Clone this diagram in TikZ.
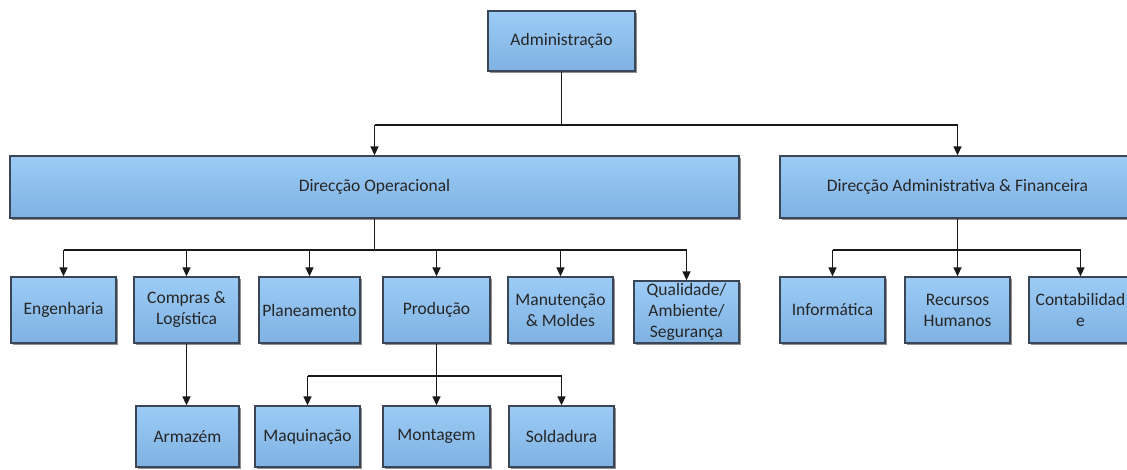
\documentclass[tikz,border=0pt]{standalone}
\usepackage{fontspec}
\setmainfont{Carlito}
\usetikzlibrary{shadows,arrows.meta,calc}
\definecolor{boxtop}{HTML}{9CCBF6}
\definecolor{boxbot}{HTML}{7FB2E2}
\definecolor{boxline}{HTML}{3A4656}
\definecolor{txt}{HTML}{262626}
\tikzset{
  box/.style={draw=boxline, line width=1.3pt, top color=boxtop, bottom color=boxbot,
    drop shadow={shadow xshift=1.6pt, shadow yshift=-1.6pt, fill=black!55, opacity=0.8},
    align=center, text=txt, inner sep=0pt,
    font=\fontsize{17.5}{21}\selectfont},
  wire/.style={draw=black!90, line width=1.5pt},
  conn/.style={wire, -{Triangle[width=8pt,length=9pt]}},
}
\newcommand{\bx}[7]{% name, x1, y1, x2, y2, text, extra
  \node[box, minimum width={(#4-#2)*1pt}, minimum height={(#5-#3)*1pt}, #7] (#1) at ({(#2+#4)/2},{(#3+#5)/2}) {#6};}
\begin{document}
\begin{tikzpicture}[x=1pt,y=-1pt]
\useasboundingbox (0,0) rectangle (1127,469);
\bx{adm}{488}{11}{635}{71}{Administração}{}
\bx{dop}{10}{156}{739}{218}{Direcção Operacional}{}
\bx{daf}{780}{156}{1135}{218}{Direcção Administrativa \& Financeira}{}
\bx{eng}{11}{277}{116}{343}{Engenharia}{}
\bx{com}{134}{277}{239}{343}{Compras \&\\Logística}{}
\bx{pla}{259}{277}{360}{343}{Planeamento}{}
\bx{pro}{383}{277}{490}{343}{Produção}{}
\bx{man}{508}{277}{613}{343}{Manutenção\\\& Moldes}{}
\bx{qua}{634}{281}{739}{343}{Qualidade/\\Ambiente/\\Segurança}{}
\bx{inf}{780}{277}{885}{343}{Informática}{}
\bx{rh}{905}{277}{1010}{343}{Recursos\\Humanos}{}
\bx{cont}{1029}{277}{1132}{343}{Contabilidad\\e}{}
\bx{arm}{136}{406}{239}{467}{Armazém}{}
\bx{maq}{255}{406}{360}{467}{Maquinação}{}
\bx{mon}{383}{406}{490}{467}{Montagem}{}
\bx{sol}{509}{406}{614}{467}{Soldadura}{}
% connectors
\coordinate (j0) at ($(adm.south)+(0,53.5)$);
\draw[wire] (adm.south) -- (j0);
\draw[wire] (j0 -| dop.north) -- (j0 -| daf.north);
\foreach \c in {dop,daf}{\draw[conn] (j0 -| \c.north) -- (\c.north);}
\coordinate (j1) at ($(dop.south)+(0,31.5)$);
\draw[wire] (dop.south) -- (j1);
\draw[wire] (j1 -| eng.north) -- (j1 -| qua.north);
\foreach \c in {eng,com,pla,pro,man,qua}{\draw[conn] (j1 -| \c.north) -- (\c.north);}
\coordinate (j2) at ($(daf.south)+(0,31.5)$);
\draw[wire] (daf.south) -- (j2);
\draw[wire] (j2 -| inf.north) -- (j2 -| cont.north);
\foreach \c in {inf,rh,cont}{\draw[conn] (j2 -| \c.north) -- (\c.north);}
\draw[conn] (com.south) -- (com.south |- arm.north);
\coordinate (j3) at ($(pro.south)+(0,32.5)$);
\draw[wire] (pro.south) -- (j3);
\draw[wire] (j3 -| maq.north) -- (j3 -| sol.north);
\foreach \c in {maq,mon,sol}{\draw[conn] (j3 -| \c.north) -- (\c.north);}
\end{tikzpicture}
\end{document}
